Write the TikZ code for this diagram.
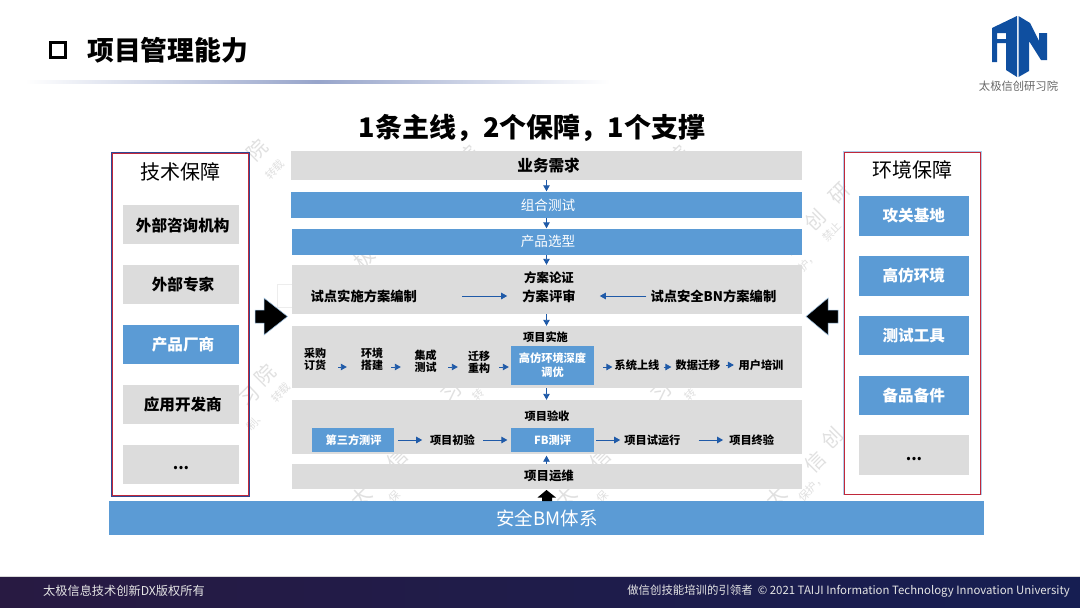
\documentclass[tikz,border=0pt]{standalone}
\usepackage{fontspec}
\setmainfont{Noto Sans CJK SC}
\usetikzlibrary{arrows.meta,shadings}
\definecolor{gbox}{HTML}{DCDCDC}
\definecolor{bbox}{HTML}{5B9BD5}
\definecolor{arr}{HTML}{1F5AA8}
\definecolor{logo}{HTML}{0F4FA0}
\definecolor{framer}{HTML}{C0283A}
\definecolor{frameb}{HTML}{2F4A96}
\definecolor{wm}{HTML}{E0E0E0}
\tikzset{
 x=1pt,y=-1pt,
 gray box/.style={fill=gbox,draw=none,inner sep=0pt,text=black},
 blue box/.style={fill=bbox,draw=none,inner sep=0pt,text=white},
 lab/.style={font=\bfseries\fontsize{13.3}{15}\selectfont,text=black,inner sep=0pt,align=center},
 mlab/.style={font=\bfseries\fontsize{12.4}{14}\selectfont,text=black,inner sep=0pt,align=center},
 slab/.style={font=\bfseries\fontsize{11.2}{13}\selectfont,text=black,inner sep=0pt,align=center},
 wlab/.style={font=\bfseries\fontsize{11.2}{14}\selectfont,text=white,inner sep=0pt,align=center},
 two/.style={font=\bfseries\fontsize{11}{12}\selectfont,text=black,align=center,inner sep=0pt},
 side/.style={font=\bfseries\fontsize{15.6}{18}\selectfont,inner sep=0pt},
 flow/.style={draw=arr,line width=0.9pt,-{Triangle[length=6pt,width=6.5pt]}},
 big/.style={fill=black,draw=bbox!60,line width=0.5pt},
 wmark/.style={font=\fontsize{20}{20}\selectfont,text=wm,rotate=45,inner sep=0pt},
 wmsub/.style={font=\fontsize{11}{11}\selectfont,text=wm,rotate=45,inner sep=0pt},
 foot/.style={text=white!90!black,inner sep=0pt},
 band/.style={font=\fontsize{13.6}{16}\selectfont,text=white,inner sep=0pt},
}
\newcommand{\cbox}[6]{\node[#1,minimum width=#4-#3,minimum height=#6-#5] at ({(#3+#4)/2},{(#5+#6)/2}) (#2) {};}
\begin{document}
\begin{tikzpicture}
\useasboundingbox (0,0) rectangle (1080,608);
\fill[white] (0,0) rectangle (1080,608);
% watermark fragments
\draw[black!7,line width=0.6pt] (277,284) rectangle (292,307);
\node[wmark] (w1) at (257,150) {院};
\node[wmsub] (w2) at (275,170) {转载};
\node[wmark] (w3) at (265,375) {院};
\node[wmark] (w4) at (250,397) {习};
\node[wmsub] (w5) at (281,393) {转载};
\node[wmsub] (w6) at (256,421) {制、};
\node[wmark] (w7) at (840,193) {研};
\node[wmark] (w8) at (815,220) {创};
\node[wmark] (w9) at (790,245) {信};
\node[wmsub] (w10) at (832,232) {禁止};
\node[wmsub] (w11) at (808,262) {护，};
\node[wmark] (w12) at (832,438) {创};
\node[wmark] (w13) at (815,462) {信};
\node[wmsub] (w14) at (812,488) {保护，};
\node[wmark] (w15) at (452,393) {习};
\node[wmsub] (w16) at (478,395) {转};
\node[wmark] (w17) at (662,393) {习};
\node[wmsub] (w18) at (690,395) {转};
\node[wmark] (w19) at (361,497) {太};
\node[wmsub] (w20) at (394,497) {保};
\node[wmark] (w21) at (566,497) {太};
\node[wmsub] (w22) at (602,497) {保};
\node[wmark] (w23) at (776,497) {太};
\node[wmark] (w24) at (397,459) {信};
\node[wmark] (w25) at (600,459) {信};
\node[wmark] (w26) at (468,156) {院};
\node[wmark] (w27) at (678,156) {院};
\node[wmark] (w28) at (364,258) {极};
% title
\node[inner sep=0pt,draw=black,line width=3.4pt,minimum width=14.5pt,minimum height=14.5pt] (bul) at (58,50) {};
\node[font=\bfseries\fontsize{26.8}{30}\selectfont,anchor=west,inner sep=0pt] (ttl) at (87,50) {项目管理能力};
\shade[left color=white,right color=white,middle color=frameb!50] (25,80) rectangle (610,83);
% logo
\fill[logo,even odd rule] (992,28)--(1017,16)--(1017,77)--(1006,70)--(1006,43)--(997,43)--(997,62)--(992,62)--cycle
 (997,33) rectangle (1006,39);
\fill[logo] (1018.5,16)--(1030,23)--(1039,41)--(1039,33)--(1047,33)--(1047,60)--(1041,60)--(1029,41)--(1029,71)--(1018.5,77)--cycle;
\node[font=\fontsize{11.3}{13}\selectfont,text=black!60,inner sep=0pt] (lg) at (1018.5,86) {太极信创研习院};
\node[font=\bfseries\fontsize{27}{32}\selectfont,inner sep=0pt] (hd) at (532,128) {1条主线，2个保障，1个支撑};
% frames
\draw[frameb,line width=1.1pt] (111.5,152.6) rectangle (249,496.2);
\draw[framer,line width=1pt] (112.7,153.6) rectangle (248,495.2);
\draw[bbox!50,line width=1pt] (843.6,151.6) rectangle (981,494.9);
\draw[framer,line width=1pt] (844.5,152.5) rectangle (980.3,494.2);
\node[font=\fontsize{20}{24}\selectfont,inner sep=0pt] (tl) at (180.7,171.7) {技术保障};
\node[font=\fontsize{20}{24}\selectfont,inner sep=0pt] (tr) at (912.3,170) {环境保障};
% left
\cbox{gray box}{l1}{123}{239}{205}{244}
\cbox{gray box}{l2}{123}{239}{265}{304}
\cbox{blue box}{l3}{123}{239}{325}{364}
\cbox{gray box}{l4}{123}{239}{385}{424}
\cbox{gray box}{l5}{123}{239}{445}{484}
\node[side] (lt1) at (182.7,225) {外部咨询机构};
\node[side] (lt2) at (183,285) {外部专家};
\node[side,text=white] (lt3) at (183,345) {产品厂商};
\node[side] (lt4) at (182.8,405) {应用开发商};
\node[side] (lt5) at (181,468) {...};
% right
\cbox{blue box}{r1}{859}{969}{196}{236}
\cbox{blue box}{r2}{859}{969}{256}{296}
\cbox{blue box}{r3}{859}{969}{316}{355}
\cbox{blue box}{r4}{859}{969}{376}{415}
\cbox{gray box}{r5}{859}{969}{435}{475}
\node[side,text=white] (rt1) at (913.8,216) {攻关基地};
\node[side,text=white] (rt2) at (913.8,276) {高仿环境};
\node[side,text=white] (rt3) at (913.8,336) {测试工具};
\node[side,text=white] (rt4) at (913.8,396) {备品备件};
\node[side] (rt5) at (914,459) {...};
% big arrows
\draw[big] (255,310)--(264,310)--(264,298)--(287.5,316.5)--(264,335)--(264,323)--(255,323)--cycle;
\draw[big] (838,310)--(828,310)--(828,298)--(806,316.5)--(828,335)--(828,323)--(838,323)--cycle;
% rows
\cbox{gray box}{a}{291}{802}{151}{180}
\cbox{blue box}{b}{290.5}{802}{191.5}{218}
\cbox{blue box}{c}{291.5}{802}{228.5}{254.5}
\cbox{gray box}{d}{291.5}{802}{265}{314}
\cbox{gray box}{e}{291.5}{802}{326}{388}
\cbox{gray box}{f}{291.5}{802}{400}{454}
\cbox{gray box}{g}{291.5}{802}{464}{489}
\cbox{blue box}{h}{109}{984}{501}{535}
\node[font=\bfseries\fontsize{15.6}{18}\selectfont,inner sep=0pt] (at) at (548.6,166) {业务需求};
\node[band] (bt) at (548,205) {组合测试};
\node[band] (ct) at (548,241) {产品选型};
\node[font=\fontsize{18.5}{22}\selectfont,text=white,inner sep=0pt] (ht) at (547,518.5) {安全BM体系};
% vertical flows
\draw[flow] (a.south -| 546.5,0) -- (b.north -| 546.5,0);
\draw[flow] (b.south -| 546.5,0) -- (c.north -| 546.5,0);
\draw[flow] (c.south -| 546.5,0) -- (d.north -| 546.5,0);
\draw[flow] (d.south -| 546.5,0) -- (e.north -| 546.5,0);
\draw[flow] (e.south -| 546.5,0) -- (f.north -| 546.5,0);
\draw[flow,shorten >=1.5pt] (g.north -| 546.5,0) -- (f.south -| 546.5,0);
\draw[big,draw=none] (542,501)--(542,497.5)--(537.5,497.5)--(546.5,490)--(556,497.5)--(552,497.5)--(552,501)--cycle;
% row d
\node[mlab] (d0) at (549,277.5) {方案论证};
\node[lab] (d1) at (549,296) {方案评审};
\node[lab] (d2) at (363.8,296) {试点实施方案编制};
\node[lab] (d3) at (713.4,296) {试点安全BN方案编制};
\draw[flow,shorten <=45pt,shorten >=15pt] (d2.east) -- (d1.west);
\draw[flow,shorten <=4pt,shorten >=24pt] (d3.west) -- (d1.east);
% row e
\node[slab] (e0) at (545.5,337.5) {项目实施};
\cbox{blue box}{e5}{511}{594}{346}{385}
\node[wlab] (e5t) at (552.5,365) {高仿环境深度\\调优};
\node[two] (e1) at (315,359) {采购\\订货};
\node[two] (e2) at (372,359.5) {环境\\搭建};
\node[two] (e3) at (425.5,361) {集成\\测试};
\node[two] (e4) at (479,362.5) {迁移\\重构};
\node[slab] (e6) at (637,365) {系统上线};
\node[slab] (e7) at (698,365) {数据迁移};
\node[slab] (e8) at (761,365) {用户培训};
\draw[flow] ([xshift=12pt,yshift=-8pt]e1.east) -- ([xshift=-14pt,yshift=-7.5pt]e2.west);
\draw[flow] ([xshift=8pt,yshift=-7.5pt]e2.east) -- ([xshift=-13.5pt,yshift=-6pt]e3.west);
\draw[flow] ([xshift=11.5pt,yshift=-6pt]e3.east) -- ([xshift=-10pt,yshift=-4.5pt]e4.west);
\draw[flow] ([xshift=9pt,yshift=-4.5pt]e4.east) -- ([xshift=-2pt,yshift=-1.5pt]e5.west);
\draw[flow] ([xshift=9pt,yshift=-1.5pt]e5.east) -- ([xshift=-2pt,yshift=-2pt]e6.west);
\draw[flow] ([xshift=4pt,yshift=-2pt]e6.east) -- ([xshift=-4pt,yshift=-2pt]e7.west);
\draw[flow] ([xshift=5.5pt]e7.east) -- ([xshift=-4.5pt]e8.west);
% row f
\node[slab] (f0) at (547,415.7) {项目验收};
\cbox{blue box}{f1}{312}{394}{428}{452}
\cbox{blue box}{f3}{511}{594}{428}{452}
\node[wlab] (f1t) at (353.6,440.3) {第三方测评};
\node[wlab] (f3t) at (552.5,440.3) {FB测评};
\node[slab] (f2) at (452.4,440) {项目初验};
\node[slab] (f4) at (652.4,440) {项目试运行};
\node[slab] (f5) at (751.7,440) {项目终验};
\draw[flow] ([xshift=4pt]f1.east) -- ([xshift=-7.6pt]f2.west);
\draw[flow] ([xshift=8pt]f2.east) -- ([xshift=-3.4pt]f3.west);
\draw[flow] ([xshift=2pt]f3.east) -- ([xshift=-4pt]f4.west);
\draw[flow] ([xshift=18pt]f4.east) -- ([xshift=-6pt]f5.west);
\node[mlab] (g0) at (549,476) {项目运维};
% footer
\fill[black!15] (0,576) rectangle (1080,577.5);
\shade[left color={rgb,255:red,40;green,26;blue,66},right color={rgb,255:red,22;green,30;blue,82}] (0,577) rectangle (1080,608);
\node[foot,font=\fontsize{12.2}{14}\selectfont,anchor=west] (fl) at (43,591) {太极信息技术创新DX版权所有};
\node[foot,font=\fontsize{11.4}{14}\selectfont,anchor=east] (fr) at (1070,591) {做信创技能培训的引领者 \ © 2021 TAIJI Information Technology Innovation University};
\end{tikzpicture}
\end{document}
